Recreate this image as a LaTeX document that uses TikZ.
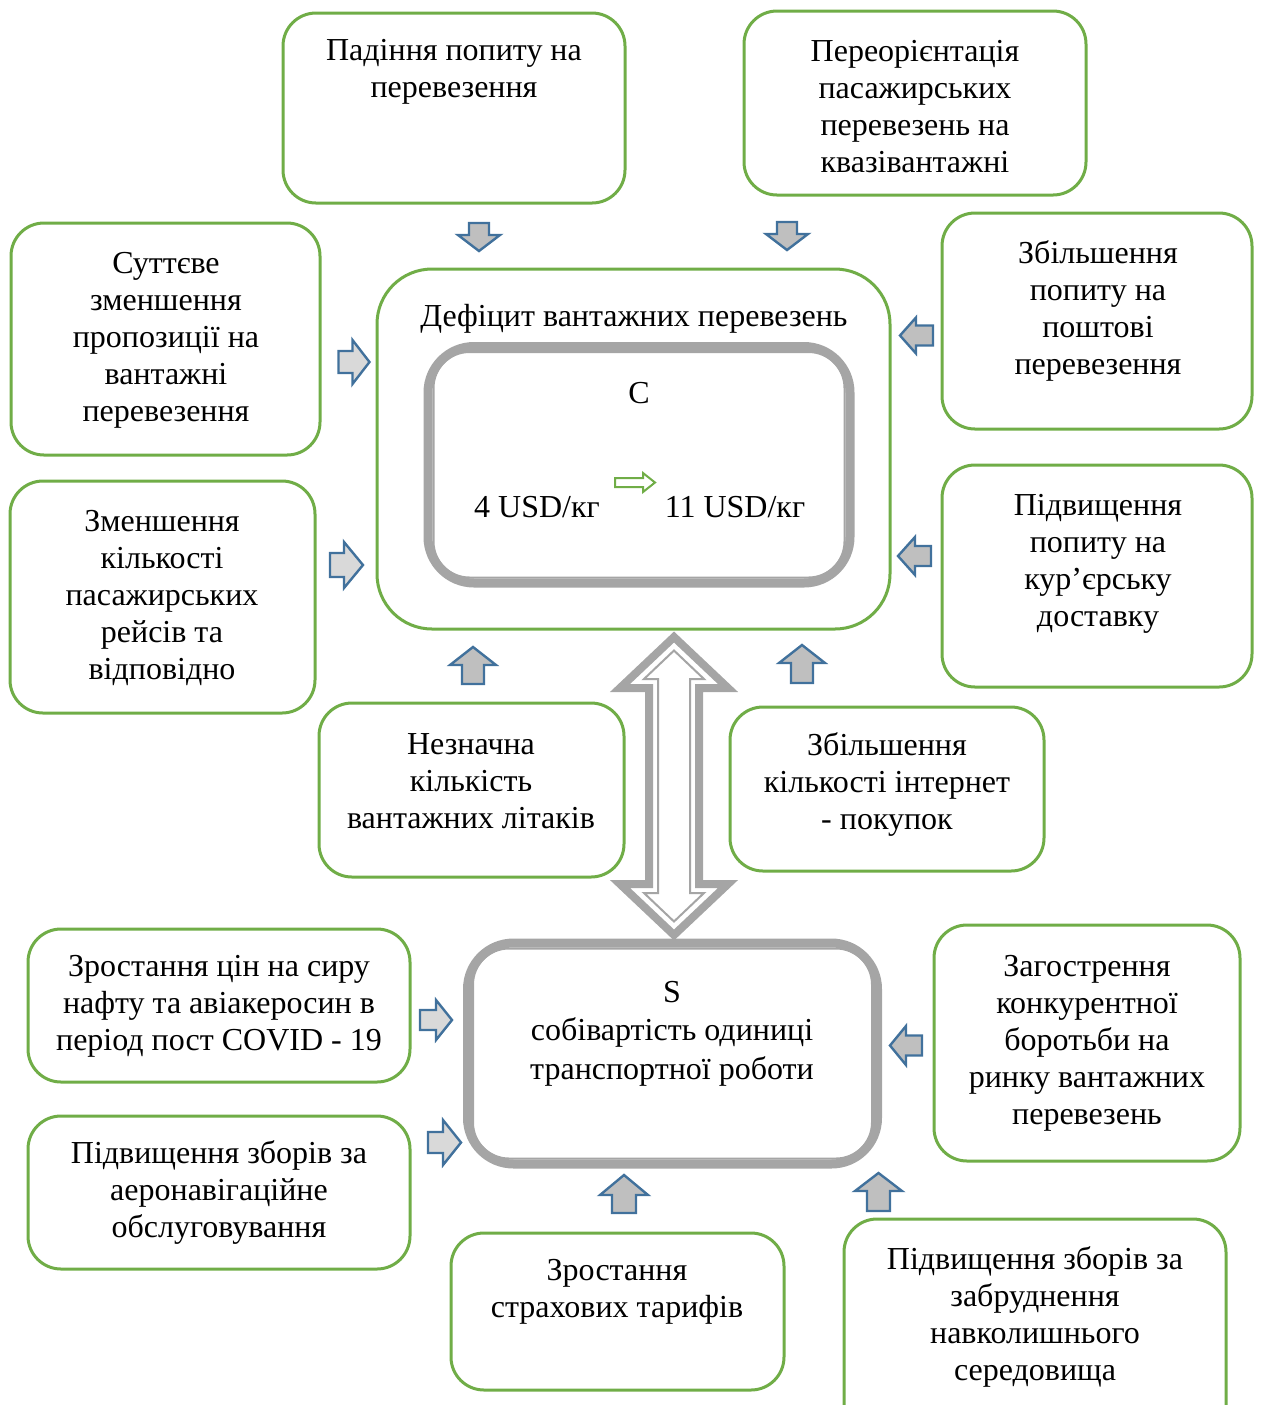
\documentclass[tikz,border=0pt]{standalone}
\usepackage{fontspec}
\setmainfont{Liberation Serif}
\usetikzlibrary{fit}
\definecolor{grn}{HTML}{70AD47}
\definecolor{gry}{HTML}{A5A5A5}
\definecolor{blu}{HTML}{41719C}
\definecolor{fillA}{HTML}{BFBFBF}
\definecolor{fillB}{HTML}{D9D9D9}
\tikzset{
  gbox/.style={draw=grn, line width=1.5pt, rounded corners=16.5pt, inner sep=0pt, fill=white},
  txt/.style={align=center, inner sep=0pt, font=\fontsize{16}{18.5}\selectfont},
  barr/.style={draw=blu, line width=1.2pt, line join=miter},
  gframe/.style={draw=gry, line width=4.5pt, rounded corners=23pt, inner sep=0pt},
  gthin/.style={draw=gry, line width=1pt, rounded corners=18pt},
}
\newcommand\blockarr[8]{% #1 fill, #2 rot, #3 x, #4 y, #5 half length, #6 head length, #7 shaft hw, #8 head hw
  \draw[barr, fill=#1, shift={(#3,#4)}, rotate=#2] (-#5,-#7) -- ({#5-#6},-#7) -- ({#5-#6},-#8) -- (#5,0) -- ({#5-#6},#8) -- ({#5-#6},#7) -- (-#5,#7) -- cycle;}
\begin{document}
\begin{tikzpicture}[x=0.5pt, y=-0.5pt]
\useasboundingbox (0,0) rectangle (1262,1405);
\clip (0,0) rectangle (1262,1405);

% green boxes
\node[gbox, fit={(283,13) (625,203)}] (b1) {};
\node[gbox, fit={(744,11) (1086,195)}] (b2) {};
\node[gbox, fit={(11,223) (320,455)}] (b3) {};
\node[gbox, fit={(10,481) (315,713)}] (b4) {};
\node[gbox, rounded corners=27.5pt, fit={(377,269) (890,629)}] (b5) {};
\node[gbox, fit={(942,213) (1252,429)}] (b7) {};
\node[gbox, fit={(942,465) (1252,687)}] (b8) {};
\node[gbox, fit={(319,703) (624,877)}] (b9) {};
\node[gbox, fit={(730,707) (1044,871)}] (b10) {};
\node[gbox, fit={(28,929) (410,1082)}] (b13) {};
\node[gbox, fit={(28,1116) (410,1269)}] (b14) {};
\node[gbox, fit={(451,1233) (784,1390)}] (b15) {};
\node[gbox, fit={(844,1219) (1226,1445)}] (b16) {};
\node[gbox, fit={(934,925) (1240,1161)}] (b17) {};

% C box
\node[gframe, fit={(428,346.5) (850,583)}] (cbox) {};
\draw[gthin] ([shift={(10,10)}]cbox.north west) rectangle ([shift={(-10,-10)}]cbox.south east);

% S box
\node[gframe, fit={(467.5,943) (877.5,1164)}] (sbox) {};
\draw[gthin] ([shift={(10,10)}]sbox.north west) rectangle ([shift={(-10,-10)}]sbox.south east);

% double arrow
\draw[gry, line width=4pt, fill=white, line join=miter]
  (674,637) -- (728,688) -- (699,688) -- (699,884) -- (728,884) -- (674,935) -- (620,884) -- (649,884) -- (649,688) -- (620,688) -- cycle;
\draw[gry, line width=1pt, line join=miter]
  (674,650.5) -- (704,679) -- (690,679) -- (690,893) -- (704,893) -- (674,921.5) -- (644,893) -- (658,893) -- (658,679) -- (644,679) -- cycle;

% texts
\node[txt] (t1) at (454,72) {Падіння попиту на\\перевезення};
\node[txt] (t2) at (915,107) {Переорієнтація\\пасажирських\\перевезень на\\квазівантажні};
\node[txt] (t3) at (166,340) {Суттєве\\зменшення\\пропозиції на\\вантажні\\перевезення};
\node[txt] (t4) at (162,598) {Зменшення\\кількості\\пасажирських\\рейсів та\\відповідно};
\node[txt] (t5) at (634,319) {Дефіцит вантажних перевезень};
\node[txt] (tc) at (639,393) {C};
\node[txt] (tu1) at (537,507) {4 USD/кг};
\node[txt] (tu2) at (735,507) {11 USD/кг};
\node[txt] (t7) at (1098,310.5) {Збільшення\\попиту на\\поштові\\перевезення};
\node[txt] (t8) at (1098,563.5) {Підвищення\\попиту на\\кур’єрську\\доставку};
\node[txt] (t9) at (471,781) {Незначна\\кількість\\вантажних літаків};
\node[txt] (t10) at (887,784.5) {Збільшення\\кількості інтернет\\- покупок};
\node[txt, font=\fontsize{16}{19.3}\selectfont] (ts) at (672,1033.5) {S\\собівартість одиниці\\транспортної роботи};
\node[txt] (t13) at (219,1006) {Зростання цін на сиру\\нафту та авіакеросин в\\період пост COVID - 19};
\node[txt] (t14) at (219,1192) {Підвищення зборів за\\аеронавігаційне\\обслуговування};
\node[txt] (t15) at (617,1291.5) {Зростання\\страхових тарифів};
\node[txt] (t16) at (1035,1316.5) {Підвищення зборів за\\забруднення\\навколишнього\\середовища};
\node[txt] (t17) at (1087,1043.5) {Загострення\\конкурентної\\боротьби на\\ринку вантажних\\перевезень};

% green hollow arrow in C box
\draw[grn, line width=1pt, fill=white, line join=miter]
  (615,478) -- (643,478) -- (643,473) -- (655,482.5) -- (643,492) -- (643,487) -- (615,487) -- cycle;

% block arrows
\blockarr{fillA}{-90}{479}{237}{14}{16}{10}{21}
\blockarr{fillA}{-90}{787}{236}{14}{16}{10}{21}
\blockarr{fillB}{0}{354}{362}{15.5}{17}{11}{22}
\blockarr{fillB}{0}{346.5}{565}{16.5}{19}{12}{23}
\blockarr{fillA}{180}{916.5}{335.5}{16.5}{16}{10}{18}
\blockarr{fillA}{180}{914.5}{556}{16.5}{17}{10}{19}
\blockarr{fillA}{90}{473}{665.5}{18.5}{18}{11}{23}
\blockarr{fillA}{90}{802}{664}{19}{18}{11}{23}
\blockarr{fillB}{0}{436}{1020}{16}{16}{10}{20}
\blockarr{fillB}{0}{444.5}{1142.5}{16.5}{18}{10.5}{22.5}
\blockarr{fillA}{180}{906}{1045.5}{16}{16}{10}{19.5}
\blockarr{fillA}{90}{624}{1194}{19}{20}{12}{24}
\blockarr{fillA}{90}{878.5}{1192}{19}{18}{11.5}{23.5}
\end{tikzpicture}
\end{document}
